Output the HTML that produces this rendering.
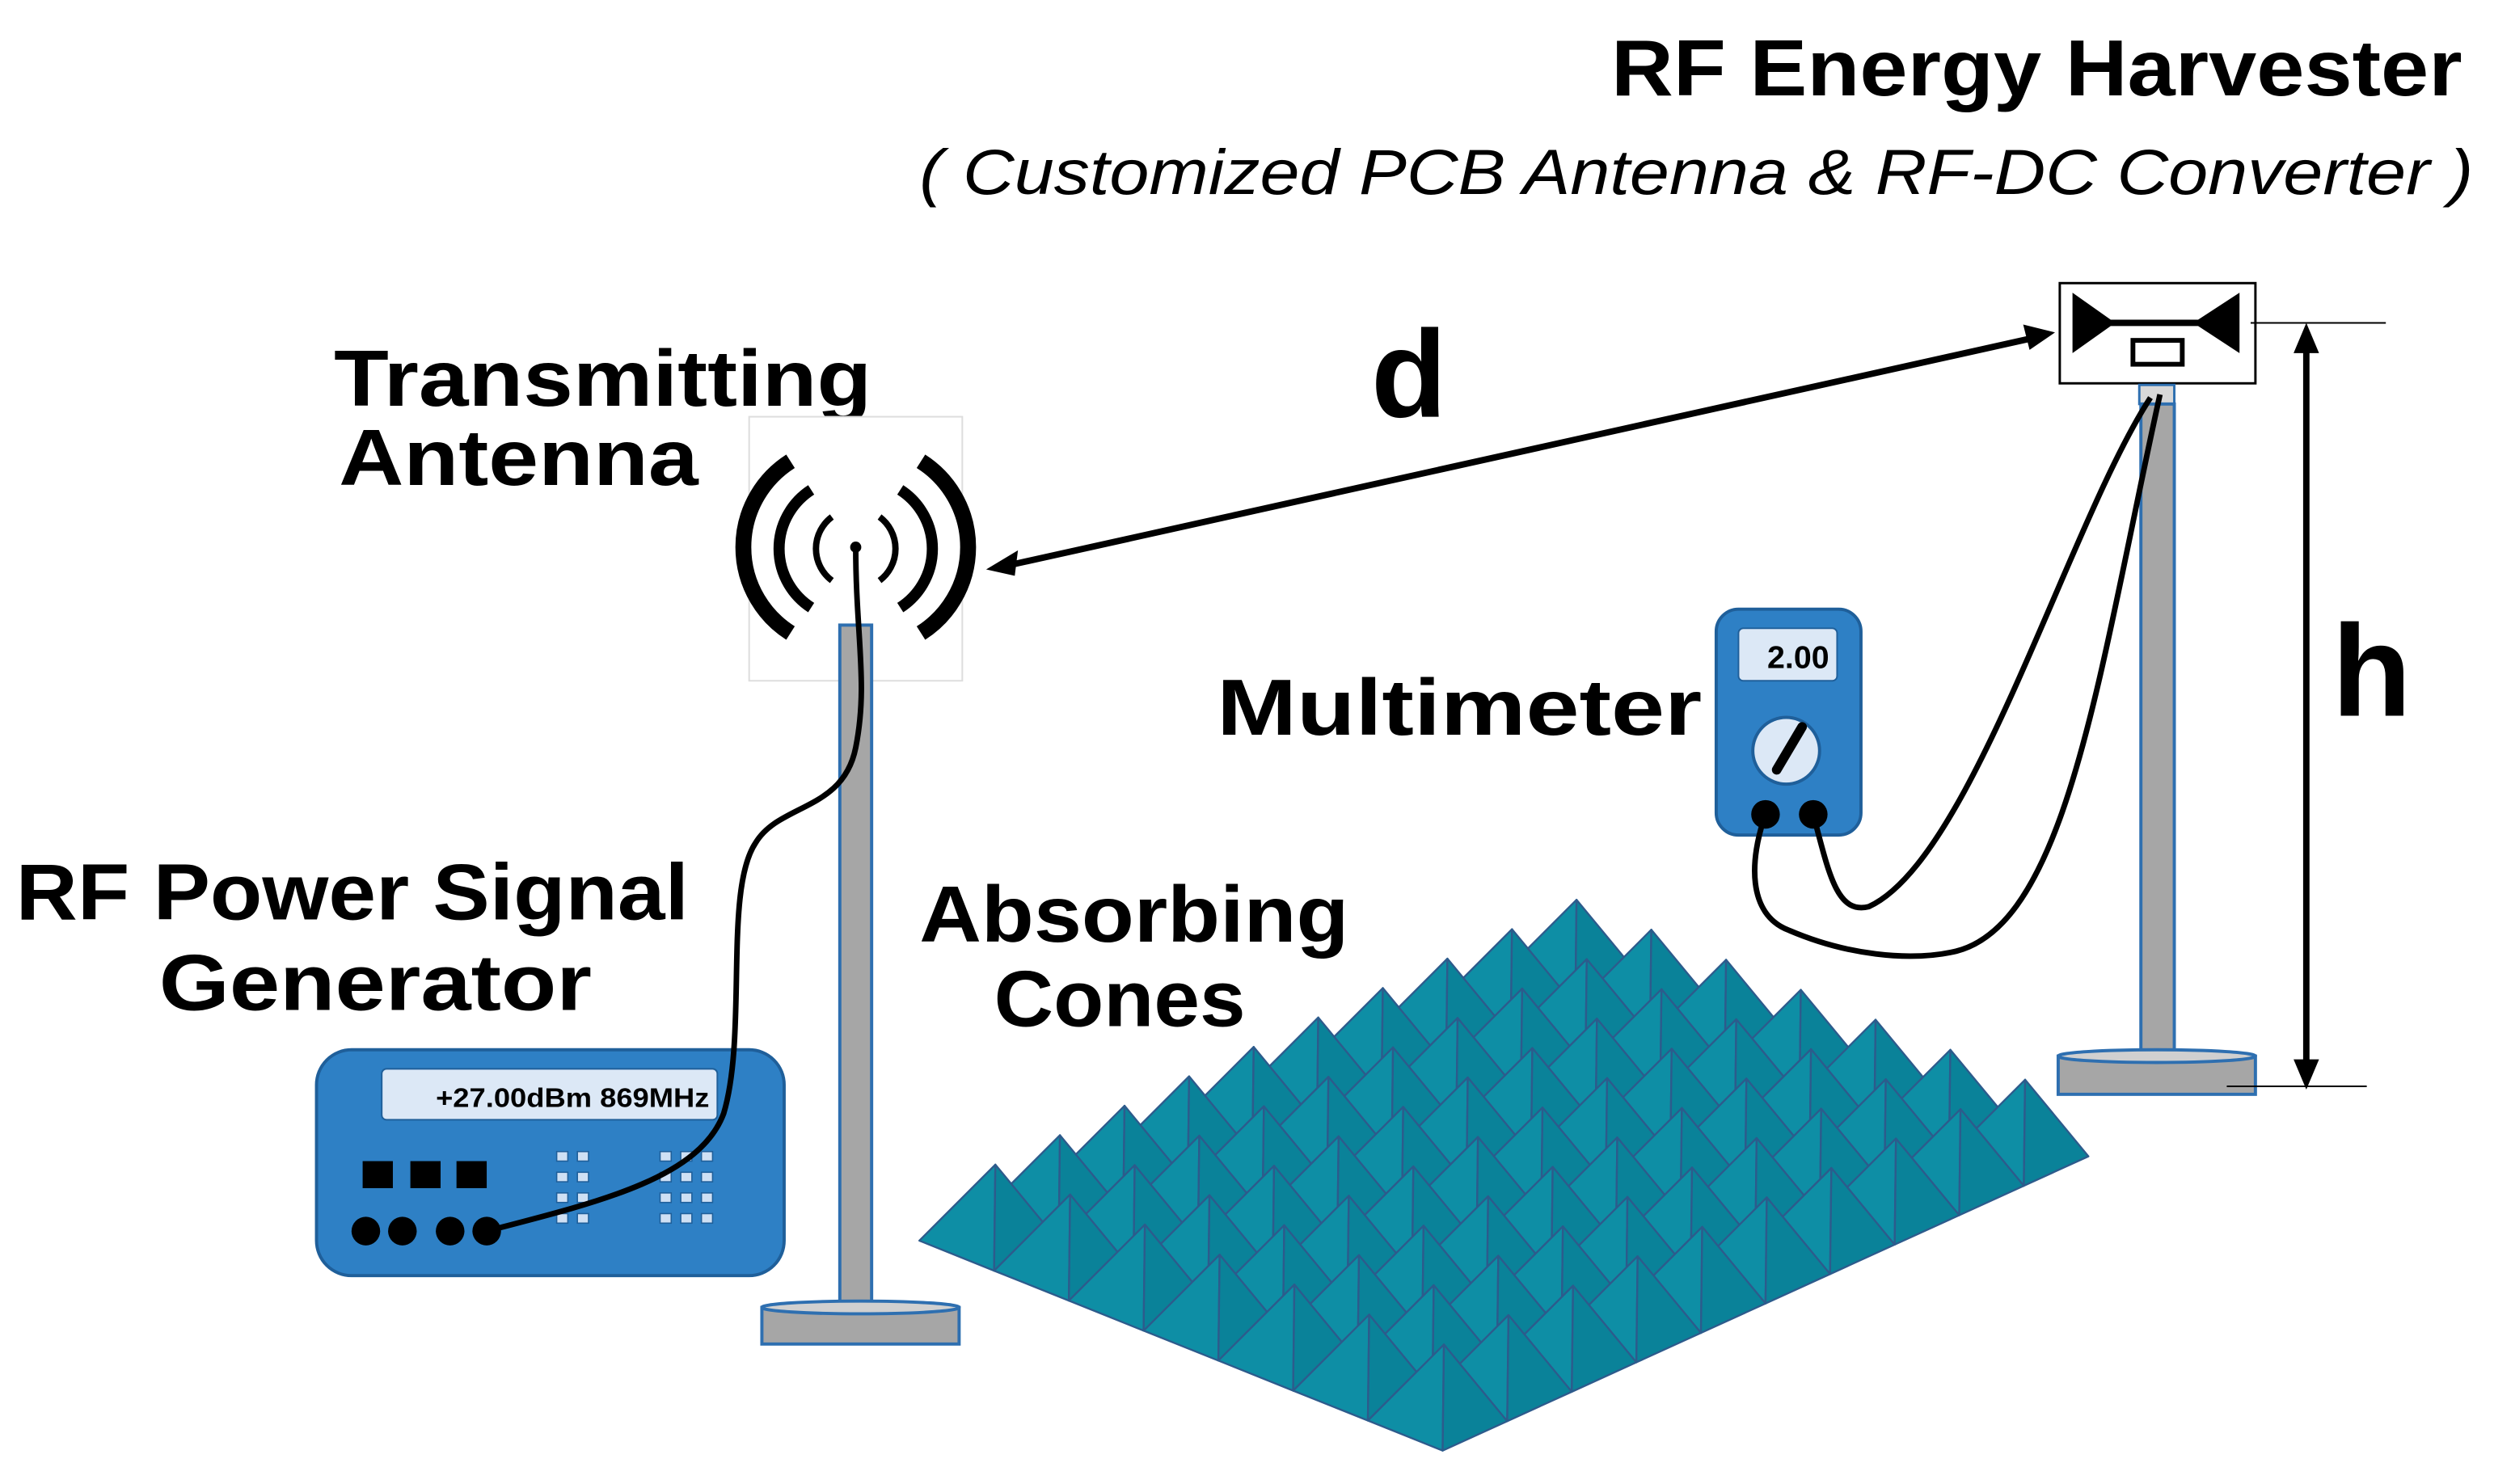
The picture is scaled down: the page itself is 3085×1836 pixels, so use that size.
<!DOCTYPE html>
<html><head><meta charset="utf-8"><style>
html,body{margin:0;padding:0;background:#fff;}
svg{display:block;}
text{font-family:"Liberation Sans",sans-serif;font-weight:bold;fill:#000;}
</style></head><body>
<svg id="s" width="3085" height="1836" viewBox="0 0 1568 933" preserveAspectRatio="none" xmlns="http://www.w3.org/2000/svg">
<rect width="1568" height="933" fill="#fff"/>
<text x="1548" y="60" font-size="50" text-anchor="end" textLength="535" lengthAdjust="spacingAndGlyphs">RF Energy Harvester</text>
<text x="1555" y="122" font-size="40" font-style="italic" text-anchor="end" textLength="977" lengthAdjust="spacingAndGlyphs" style="font-weight:normal">( Customized PCB Antenna &amp; RF-DC Converter )</text>
<text x="210" y="255" font-size="50" textLength="338" lengthAdjust="spacingAndGlyphs">Transmitting</text>
<text x="213" y="305" font-size="50" textLength="226" lengthAdjust="spacingAndGlyphs">Antenna</text>
<text x="10" y="578" font-size="50" textLength="423" lengthAdjust="spacingAndGlyphs">RF Power Signal</text>
<text x="100" y="635" font-size="50" textLength="272" lengthAdjust="spacingAndGlyphs">Generator</text>
<text x="578" y="592" font-size="50" textLength="270" lengthAdjust="spacingAndGlyphs">Absorbing</text>
<text x="625" y="645" font-size="50" textLength="158" lengthAdjust="spacingAndGlyphs">Cones</text>
<text x="765" y="462" font-size="50" textLength="305" lengthAdjust="spacingAndGlyphs">Multimeter</text>
<text x="862" y="262" font-size="78">d</text>
<text x="1466" y="450" font-size="82">h</text>

<g id="cones"></g>

<rect x="471" y="262" width="134" height="166" fill="#fff" stroke="#ddd" stroke-width="1"/>
<g fill="none" stroke="#000" stroke-linecap="butt">
<path d="M497,290 A64,64 0 0 0 497,398" stroke-width="10"/>
<path d="M579,290 A64,64 0 0 1 579,398" stroke-width="10"/>
<path d="M510,308 A44,44 0 0 0 510,382" stroke-width="7"/>
<path d="M566,308 A44,44 0 0 1 566,382" stroke-width="7"/>
<path d="M523,325 A25,25 0 0 0 523,365" stroke-width="4"/>
<path d="M553,325 A25,25 0 0 1 553,365" stroke-width="4"/>
</g>
<circle cx="538" cy="344" r="3.5" fill="#000"/>
<rect x="528" y="393" width="20" height="430" fill="#a6a6a6" stroke="#2e6fb0" stroke-width="2"/>
<rect x="479" y="822" width="124" height="23" fill="#a6a6a6" stroke="#2e6fb0" stroke-width="2"/>
<ellipse cx="541" cy="822" rx="62" ry="4" fill="#d0d0d0" stroke="#2e6fb0" stroke-width="2"/>

<rect x="199" y="660" width="294" height="142" rx="22" fill="#2e80c5" stroke="#1f5f9a" stroke-width="2"/>
<rect x="240" y="672" width="211" height="32" rx="3" fill="#dce8f6" stroke="#1f5f9a" stroke-width="1"/>
<text x="446" y="696" font-size="17" text-anchor="end" textLength="172" lengthAdjust="spacingAndGlyphs">+27.00dBm 869MHz</text>
<rect x="228" y="730" width="19" height="17" fill="#000"/>
<rect x="258" y="730" width="19" height="17" fill="#000"/>
<rect x="287" y="730" width="19" height="17" fill="#000"/>
<circle cx="230" cy="774" r="9" fill="#000"/>
<circle cx="253" cy="774" r="9" fill="#000"/>
<circle cx="283" cy="774" r="9" fill="#000"/>
<circle cx="306" cy="774" r="9" fill="#000"/>
<g id="keys" fill="#cfe0f4"></g>
<path d="M306,774 C380,755 440,740 455,700 C470,650 455,560 475,530 C490,505 530,510 538,470 C546,430 538,400 538,344" fill="none" stroke="#000" stroke-width="3.5"/>

<line x1="636" y1="355" x2="1276" y2="213" stroke="#000" stroke-width="4"/>
<polygon points="620,358 640,346 638,362" fill="#000"/>
<polygon points="1292,209 1272,204 1276,220" fill="#000"/>

<rect x="1295" y="178" width="123" height="63" fill="#fff" stroke="#000" stroke-width="1.5"/>
<polygon points="1303,184 1303,222 1327,205 1382,205 1408,222 1408,184 1382,201 1327,201" fill="#000"/>
<rect x="1341" y="214" width="31" height="15" fill="none" stroke="#000" stroke-width="3"/>
<rect x="1345" y="242" width="22" height="12" fill="#d8d8d8" stroke="#2e6fb0" stroke-width="1.5"/>
<rect x="1346" y="254" width="21" height="410" fill="#a6a6a6" stroke="#2e6fb0" stroke-width="2"/>
<rect x="1294" y="664" width="124" height="24" fill="#a6a6a6" stroke="#2e6fb0" stroke-width="2"/>
<ellipse cx="1356" cy="664" rx="62" ry="4" fill="#d0d0d0" stroke="#2e6fb0" stroke-width="2"/>

<line x1="1415" y1="203" x2="1500" y2="203" stroke="#000" stroke-width="1"/>
<line x1="1400" y1="683" x2="1488" y2="683" stroke="#000" stroke-width="1"/>
<line x1="1450" y1="220" x2="1450" y2="668" stroke="#000" stroke-width="4"/>
<polygon points="1450,203 1442,222 1458,222" fill="#000"/>
<polygon points="1450,685 1442,666 1458,666" fill="#000"/>

<rect x="1079" y="383" width="91" height="142" rx="14" fill="#2e80c5" stroke="#1f5f9a" stroke-width="2"/>
<rect x="1093" y="395" width="62" height="33" rx="3" fill="#dce8f6" stroke="#1f5f9a" stroke-width="1"/>
<text x="1150" y="420" font-size="20" text-anchor="end">2.00</text>
<circle cx="1123" cy="472" r="21" fill="#dce8f6" stroke="#1f5f9a" stroke-width="2"/>
<line x1="1117" y1="484" x2="1133" y2="457" stroke="#000" stroke-width="6" stroke-linecap="round"/>
<circle cx="1110" cy="512" r="9" fill="#000"/>
<circle cx="1140" cy="512" r="9" fill="#000"/>
<path d="M1110,512 C1100,540 1098,575 1125,585 C1160,600 1200,605 1230,598 C1300,580 1320,420 1358,248" fill="none" stroke="#000" stroke-width="3.5"/>
<path d="M1140,512 C1150,550 1155,575 1175,570 C1240,540 1300,330 1352,250" fill="none" stroke="#000" stroke-width="3.5"/>
</svg>
<script>
(function(){
var NS="http://www.w3.org/2000/svg";
var g=document.getElementById("cones");
var L=[578,780],B=[907,912],R=[1313,727];
var nu=7,nv=10;
var du=[(B[0]-L[0])/nu,(B[1]-L[1])/nu];
var dv=[(R[0]-B[0])/nv,(R[1]-B[1])/nv];
function P(i,j){return [L[0]+du[0]*i+dv[0]*j, L[1]+du[1]*i+dv[1]*j];}
var cells=[];
for(var i=0;i<nu;i++)for(var j=0;j<nv;j++)cells.push([i,j]);
cells.sort(function(a,b){var pa=P(a[0]+.5,a[1]+.5),pb=P(b[0]+.5,b[1]+.5);return pa[1]-pb[1];});
var base=document.createElementNS(NS,"polygon");
var back=[L[0]+R[0]-B[0],L[1]+R[1]-B[1]];
base.setAttribute("points",[L,B,R,back].map(function(p){return p.join(",")}).join(" "));
base.setAttribute("fill","#0b8aa0");g.appendChild(base);
cells.forEach(function(c){
 var i=c[0],j=c[1];
 var p00=P(i,j),p10=P(i+1,j),p11=P(i+1,j+1),p01=P(i,j+1);
 var cx=(p00[0]+p11[0])/2, cy=(p00[1]+p11[1])/2;
 var ap=[cx+4,cy-48];
 [[p00,p10],[p10,p11]].forEach(function(e,k){
  var t=document.createElementNS(NS,"polygon");
  t.setAttribute("points",[e[0],e[1],ap].map(function(p){return p[0].toFixed(1)+","+p[1].toFixed(1)}).join(" "));
  t.setAttribute("fill",k?"#0a8299":"#0e8ea5");
  t.setAttribute("stroke","#2d5b8c");t.setAttribute("stroke-width","1.2");t.setAttribute("stroke-linejoin","round");
  g.appendChild(t);
 });
});
var k=document.getElementById("keys");
function sq(x,y){var r=document.createElementNS(NS,"rect");r.setAttribute("x",x);r.setAttribute("y",y);r.setAttribute("width",7);r.setAttribute("height",6);r.setAttribute("stroke","#1f5f9a");r.setAttribute("stroke-width","0.8");k.appendChild(r);}
for(var r=0;r<4;r++){sq(350,724+r*13);sq(363,724+r*13);for(var c=0;c<3;c++)sq(415+c*13,724+r*13);}
})();
</script>
</body></html>
